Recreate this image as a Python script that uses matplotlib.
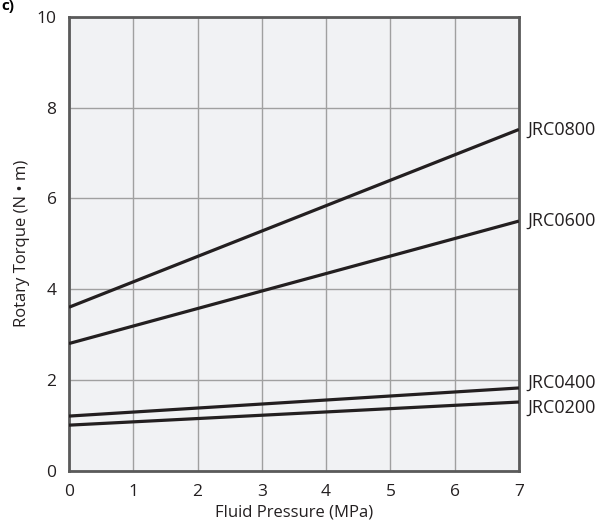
import matplotlib as mpl
mpl.use('Agg')
import matplotlib.pyplot as plt

plt.rcParams['font.family'] = ['Open Sans', 'DejaVu Sans']

# pressure (MPa) at the two ends of each line
pressure = [0, 7]
jrc0800 = [3.6, 7.52]
jrc0600 = [2.8, 5.5]
jrc0400 = [1.2, 1.82]
jrc0200 = [1.0, 1.51]
series_names = ['JRC0800', 'JRC0600', 'JRC0400', 'JRC0200']
label_offsets = [0, 0, 4, -4]  # pt, to keep the bottom two labels apart

fig = plt.figure(figsize=(6.08, 5.26), dpi=100)
ax = fig.add_axes([0.1135, 0.1055, 0.7400, 0.8622])
ax.set_facecolor('#f1f2f4')

for name, vals, off in zip(series_names, [jrc0800, jrc0600, jrc0400, jrc0200], label_offsets):
	ax.plot(pressure, vals, color='#231f20', lw=2.3, solid_capstyle='butt', zorder=3)
	ax.annotate(name, xy=(pressure[-1], vals[-1]), xytext=(6, off), textcoords='offset points',
		va='center', ha='left', fontsize=13, color='#231f20', annotation_clip=False)

ax.set_xlim(0, 7)
ax.set_ylim(0, 10)
ax.set_xticks(range(0, 8))
ax.set_yticks(range(0, 11, 2))
ax.grid(True, color='#a0a0a0', lw=1.0)
ax.tick_params(length=0, labelsize=12.5, colors='#231f20')
ax.tick_params(axis='x', pad=10)
ax.tick_params(axis='y', pad=9)
for s in ax.spines.values():
	s.set_color('#5a5a5a')
	s.set_linewidth(2)

ax.set_xlabel('Fluid Pressure (MPa)', fontsize=12, color='#231f20', labelpad=3)
ax.set_ylabel('Rotary Torque (N • m)', fontsize=12, color='#231f20', labelpad=5)

fig.text(0.002, 0.988, 'c)', fontsize=11, fontweight='bold', va='center', ha='left')

fig.savefig('out.png', dpi=100)
